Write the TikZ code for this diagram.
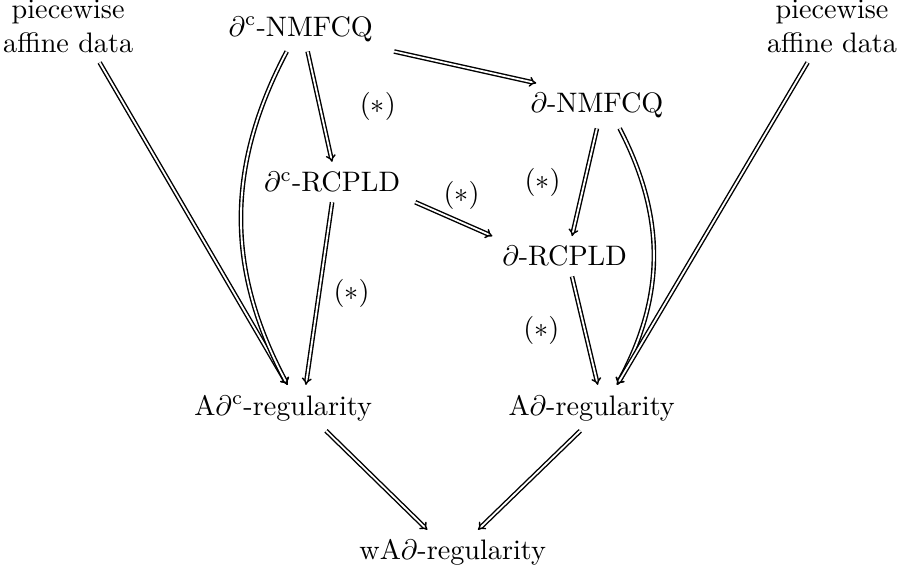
\documentclass[tikz,border=0pt]{standalone}
\usetikzlibrary{arrows.meta}

\begin{document}
\begin{tikzpicture}[imp/.style={double, line width=0.5pt, double distance=0.65pt, -{Implies}}]
            \useasboundingbox (0,0) rectangle (11.235,7.207);
            \node[align=center] (pwl) at (0.85,6.88) {piecewise\\affine data};
            \node[align=center] (pwr) at (10.375,6.88) {piecewise\\affine data};
            \node[anchor=base] (cnmf) at (3.749,6.757) {$\partial^{\mathrm{c}}$-NMFCQ};
            \node[anchor=base] (dnmf) at (7.443,5.798) {$\partial$-NMFCQ};
            \node[anchor=base] (crc) at (4.141,4.817) {$\partial^{\mathrm{c}}$-RCPLD};
            \node[anchor=base] (drc) at (7.04,3.891) {$\partial$-RCPLD};
            \node[anchor=base] (acreg) at (3.531,2.032) {A$\partial^{\mathrm{c}}$-regularity};
            \node[anchor=base] (areg) at (7.378,2.032) {A$\partial$-regularity};
            \node[anchor=base] (wareg) at (5.645,0.2245) {wA$\partial$-regularity};
            
            \draw[imp] ([xshift=3.92mm]pwl.south) -- ([xshift=0.55mm]acreg.north);
            \draw[imp] ([xshift=-1.74mm]cnmf.south) to[bend right=28] ([xshift=0.55mm]acreg.north);
            \draw[imp] ([xshift=0.87mm]cnmf.south) -- node[right=10.6pt] {$(*)$} (crc.north);
            \draw[imp] ([xshift=1.42mm]cnmf.south east) -- ([xshift=1.96mm]dnmf.north west);
            \draw[imp] (crc.south) -- node[right=1.6pt] {$(*)$} ([xshift=2.83mm]acreg.north);
            \draw[imp] ([xshift=0.65mm]crc.south east) -- node[pos=0.6, above=1pt] {$(*)$} (drc.north west);
            \draw[imp] (dnmf.south) -- node[left=4.9pt] {$(*)$} ([xshift=0.93mm]drc.north);
            \draw[imp] ([xshift=2.83mm]dnmf.south) to[bend left=28] ([xshift=3.16mm]areg.north);
            \draw[imp] ([xshift=-3.05mm]pwr.south) -- ([xshift=3.16mm]areg.north);
            \draw[imp] ([xshift=0.93mm]drc.south) -- node[left=5.5pt] {$(*)$} ([xshift=0.76mm]areg.north);
            \draw[imp] ([xshift=5.34mm]acreg.south) -- ([xshift=-3.16mm]wareg.north);
            \draw[imp] ([xshift=-1.42mm]areg.south) -- ([xshift=3.16mm]wareg.north);
        \end{tikzpicture}
\end{document}
